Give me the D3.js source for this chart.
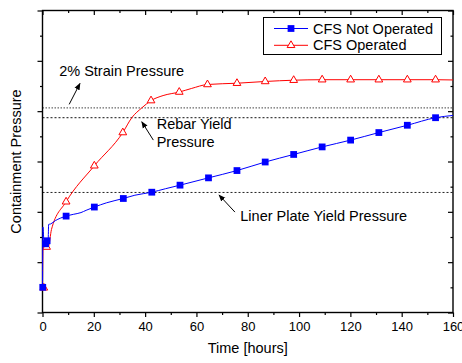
<!DOCTYPE html>
<html lang="en">
<head>
<meta charset="utf-8">
<title>Containment Pressure</title>
<script src="https://cdnjs.cloudflare.com/ajax/libs/d3/7.8.5/d3.min.js"></script>
<style>
  body { margin: 0; background: #fff; }
  svg { display: block; font-family: "Liberation Sans", Arial, sans-serif; }
</style>
</head>
<body>
<div id="chart"></div>
<script>
// ---- data ----
// CFS Not Operated: line points
var blueTime = [0, 0.15, 0.6, 1.2, 1.8, 2.2, 2.4, 3.2, 5, 7, 9.2, 12, 15, 17, 20.2, 25, 31.5, 36, 42.6, 48, 53.6, 64.7, 75.8, 86.8, 97.9, 109, 120.1, 131.1, 142.2, 153.2, 160];
var blueValue = [1.0, 3.4, 2.8, 2.73, 2.85, 2.9, 3.5, 3.52, 3.65, 3.75, 3.83, 3.9, 3.97, 4.06, 4.19, 4.36, 4.53, 4.66, 4.78, 4.92, 5.06, 5.35, 5.64, 5.98, 6.28, 6.58, 6.85, 7.15, 7.44, 7.74, 7.83];
// CFS Not Operated: marker points
var blueMarkTime = [0.1, 1.2, 1.8, 9.2, 20.2, 31.5, 42.6, 53.6, 64.7, 75.8, 86.8, 97.9, 109, 120.1, 131.1, 142.2, 153.2];
var blueMarkValue = [1.0, 2.73, 2.85, 3.83, 4.19, 4.53, 4.78, 5.06, 5.35, 5.64, 5.98, 6.28, 6.58, 6.85, 7.15, 7.44, 7.74];

// CFS Operated: line points
var redTime = [0, 0.2, 1.5, 2.3, 3.5, 9.2, 20.2, 31.3, 34.8, 38.7, 42.3, 47, 53.3, 58, 64.3, 75.8, 86.8, 97.9, 109, 120.1, 131.1, 142.2, 153.2, 160];
var redValue = [0.98, 2.65, 2.6, 2.62, 3.3, 4.4, 5.83, 7.15, 7.74, 8.13, 8.42, 8.62, 8.76, 8.9, 9.06, 9.11, 9.18, 9.23, 9.25, 9.25, 9.25, 9.25, 9.25, 9.24];
// CFS Operated: marker points
var redMarkTime = [0.5, 1.6, 9.2, 20.2, 31.3, 42.3, 53.3, 64.3, 75.8, 86.8, 97.9, 109, 120.1, 131.1, 142.2, 153.2];
var redMarkValue = [0.98, 2.6, 4.4, 5.83, 7.15, 8.42, 8.76, 9.06, 9.11, 9.18, 9.23, 9.25, 9.25, 9.25, 9.25, 9.25];

var seriesNames = ["CFS Not Operated", "CFS Operated"];
var xTicks = [0, 20, 40, 60, 80, 100, 120, 140, 160];

// reference levels
var strainLevel = 8.13;
var rebarLevel = 7.74;
var linerLevel = 4.77;

var width = 462, height = 363;
var plotL = 42.5, plotR = 453, plotT = 10.5, plotB = 312.5;

var x = d3.scaleLinear().domain([0, 160]).range([plotL, plotR]);
var y = d3.scaleLinear().domain([0, 12]).range([plotB, plotT]);

var svg = d3.select("#chart").append("svg")
    .attr("width", width)
    .attr("height", height);

svg.append("defs").append("marker")
    .attr("id", "arrow")
    .attr("viewBox", "0 0 10 10")
    .attr("refX", 9).attr("refY", 5)
    .attr("markerWidth", 7).attr("markerHeight", 7)
    .attr("markerUnits", "userSpaceOnUse")
    .attr("orient", "auto")
  .append("path")
    .attr("d", "M0,1 L10,5 L0,9 Z")
    .attr("fill", "#000");

// reference lines
svg.append("line")
    .attr("x1", plotL).attr("x2", plotR)
    .attr("y1", y(strainLevel)).attr("y2", y(strainLevel))
    .attr("stroke", "#444").attr("stroke-width", 1)
    .attr("stroke-dasharray", "1.5,1.5");
svg.append("line")
    .attr("x1", plotL).attr("x2", plotR)
    .attr("y1", y(rebarLevel)).attr("y2", y(rebarLevel))
    .attr("stroke", "#111").attr("stroke-width", 1)
    .attr("stroke-dasharray", "2,2");
svg.append("line")
    .attr("x1", plotL).attr("x2", plotR)
    .attr("y1", y(linerLevel)).attr("y2", y(linerLevel))
    .attr("stroke", "#222").attr("stroke-width", 1)
    .attr("stroke-dasharray", "2,2");

// axes
var bottomAxis = d3.axisBottom(x).tickValues(xTicks).tickSize(4.5).tickSizeOuter(0).tickPadding(5);
var bottomMinor = d3.axisBottom(x).tickValues(d3.range(10, 160, 20)).tickSize(2.5).tickFormat("");
var leftMajor = d3.axisLeft(y).tickValues([0, 2, 4, 6, 8, 10, 12]).tickSize(5).tickFormat("");
var leftMinor = d3.axisLeft(y).tickValues([1, 3, 5, 7, 9, 11]).tickSize(2.5).tickFormat("");
var topMajor = d3.axisTop(x).tickValues(xTicks).tickSize(-4.5).tickFormat("");
var topMinor = d3.axisTop(x).tickValues(d3.range(10, 160, 20)).tickSize(-2.5).tickFormat("");
var rightMajor = d3.axisRight(y).tickValues([0, 2, 4, 6, 8, 10, 12]).tickSize(-5).tickFormat("");
var rightMinor = d3.axisRight(y).tickValues([1, 3, 5, 7, 9, 11]).tickSize(-2.5).tickFormat("");

function addAxis(axis, tx, ty) {
    var g = svg.append("g")
        .attr("transform", "translate(" + tx + "," + ty + ")")
        .call(axis);
    g.select(".domain").remove();
    g.selectAll("line").attr("stroke", "#000").attr("stroke-width", 1.2);
    g.selectAll("text").attr("font-size", 13).attr("fill", "#000")
        .attr("font-family", "Liberation Sans, Arial, sans-serif");
    return g;
}
addAxis(bottomAxis, 0, plotB);
addAxis(bottomMinor, 0, plotB);
addAxis(leftMajor, plotL, 0);
addAxis(leftMinor, plotL, 0);
addAxis(topMajor, 0, plotT);
addAxis(topMinor, 0, plotT);
addAxis(rightMajor, plotR, 0);
addAxis(rightMinor, plotR, 0);

svg.append("rect")
    .attr("x", plotL).attr("y", plotT)
    .attr("width", plotR - plotL).attr("height", plotB - plotT)
    .attr("fill", "none").attr("stroke", "#000").attr("stroke-width", 1.4);

// series
var line = d3.line()
    .x(function(d) { return x(d[0]); })
    .y(function(d) { return y(d[1]); })
    .curve(d3.curveMonotoneX);

var redPts = d3.zip(redTime, redValue);
var bluePts = d3.zip(blueTime, blueValue);
var tri = d3.symbol().type(d3.symbolTriangle).size(26);
var sq = d3.symbol().type(d3.symbolSquare).size(46);

svg.append("path").datum(redPts)
    .attr("d", line).attr("fill", "none")
    .attr("stroke", "#ff0000").attr("stroke-width", 1);
svg.selectAll(".tri").data(d3.zip(redMarkTime, redMarkValue)).enter()
    .append("path").attr("class", "tri")
    .attr("d", tri)
    .attr("transform", function(d) { return "translate(" + x(d[0]) + "," + y(d[1]) + ")"; })
    .attr("fill", "#fff").attr("stroke", "#ff0000").attr("stroke-width", 1);

svg.append("path").datum(bluePts)
    .attr("d", line).attr("fill", "none")
    .attr("stroke", "#0000ff").attr("stroke-width", 1);
svg.selectAll(".sq").data(d3.zip(blueMarkTime, blueMarkValue)).enter()
    .append("path").attr("class", "sq")
    .attr("d", sq)
    .attr("transform", function(d) { return "translate(" + x(d[0]) + "," + y(d[1]) + ")"; })
    .attr("fill", "#0000ff");

// annotations
function arrow(t1, v1, t2, v2) {
    svg.append("line")
        .attr("x1", x(t1)).attr("y1", y(v1))
        .attr("x2", x(t2)).attr("y2", y(v2))
        .attr("stroke", "#000").attr("stroke-width", 1)
        .attr("marker-end", "url(#arrow)");
}
function label(t, v, txt) {
    svg.append("text")
        .attr("x", x(t)).attr("y", y(v))
        .attr("font-size", 14.5).attr("fill", "#000")
        .text(txt);
}
label(6.5, 9.4, "2% Strain Pressure");
arrow(10.4, 8.27, 14.6, 9.1);
label(44.5, 7.31, "Rebar Yield");
label(44.5, 6.58, "Pressure");
arrow(43.2, 6.85, 38.7, 7.58);
label(77.1, 3.62, "Liner Plate Yield Pressure");
arrow(75, 3.99, 68.8, 4.67);

// axis titles
svg.append("text")
    .attr("x", (plotL + plotR) / 2).attr("y", 353)
    .attr("text-anchor", "middle").attr("font-size", 14.5)
    .text("Time [hours]");
svg.append("text")
    .attr("transform", "translate(21," + ((plotT + plotB) / 2) + ") rotate(-90)")
    .attr("text-anchor", "middle").attr("font-size", 14.5)
    .text("Containment Pressure");

// legend
var lg = svg.append("g");
lg.append("rect")
    .attr("x", 263.5).attr("y", 17.5).attr("width", 178).attr("height", 37)
    .attr("fill", "#fff").attr("stroke", "#000").attr("stroke-width", 1);
seriesNames.forEach(function(name, i) {
    var ly = 28.5 + i * 16.8;
    var col = i == 0 ? "#0000ff" : "#ff0000";
    lg.append("line")
        .attr("x1", 274).attr("x2", 308).attr("y1", ly).attr("y2", ly)
        .attr("stroke", col).attr("stroke-width", 1);
    lg.append("path")
        .attr("d", i == 0 ? sq : tri)
        .attr("transform", "translate(291," + ly + ")")
        .attr("fill", i == 0 ? col : "#fff")
        .attr("stroke", i == 0 ? "none" : col);
    lg.append("text")
        .attr("x", 313).attr("y", ly + 5)
        .attr("font-size", 14.5)
        .text(name);
});
</script>
</body>
</html>
